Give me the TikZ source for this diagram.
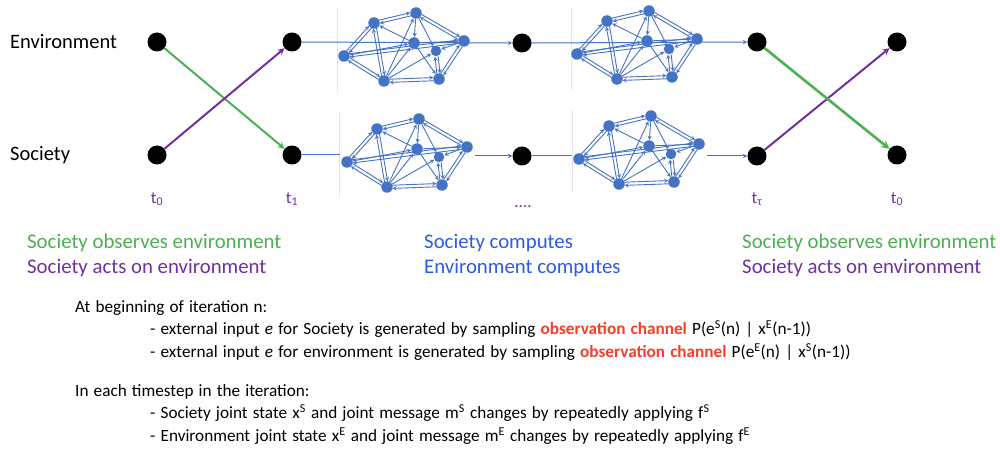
\documentclass[tikz,border=0pt]{standalone}
\usepackage{fontspec}
\setmainfont{Carlito}
\usetikzlibrary{calc}
\tikzset{>=stealth}

\definecolor{netblue}{RGB}{68,114,196}
\definecolor{obsgreen}{RGB}{76,176,80}
\definecolor{actpurple}{RGB}{112,48,160}
\definecolor{compblue}{RGB}{45,90,230}
\definecolor{chanred}{RGB}{250,60,40}

\tikzset{
  bigdot/.style={circle,fill=black,minimum size=19pt,inner sep=0pt},
  netdot/.style={circle,fill=netblue,minimum size=11.5pt,inner sep=0pt},
  link/.style={netblue,line width=0.9pt},
  flow/.style={netblue,line width=1pt},
  sepline/.style={gray!20,line width=1pt},
  obs/.style={obsgreen,line width=2pt},
  act/.style={actpurple,line width=2pt},
  rowlabel/.style={anchor=west,inner sep=0pt,font=\fontsize{20.5}{24}\selectfont},
  tlabel/.style={anchor=base,inner sep=0pt,text=actpurple,font=\fontsize{17}{20}\selectfont},
  legend/.style={anchor=west,inner sep=0pt,font=\fontsize{20.8}{24}\selectfont},
  note/.style={anchor=west,inner sep=0pt,font=\fontsize{17.2}{20}\selectfont,
    execute at begin node={\spaceskip=0.3em plus 0.1em}}
}

% two arrows side by side, one each way
\newcommand\biarrow[2]{%
  \draw[link,->,shorten >=5.5pt,shorten <=5.5pt] ($(#1)!1.6pt!90:(#2)$) -- ($(#2)!1.6pt!-90:(#1)$);
  \draw[link,->,shorten >=5.5pt,shorten <=5.5pt] ($(#2)!1.6pt!90:(#1)$) -- ($(#1)!1.6pt!-90:(#2)$);}

% one little network of agents
\newcommand\drawnet[2]{%
  \begin{scope}[shift={(#2)}]
    \node[netdot] (#1a) at (0,0) {};
    \node[netdot] (#1b) at (30,-33) {};
    \node[netdot] (#1c) at (72,-43) {};
    \node[netdot] (#1d) at (70,-13) {};
    \node[netdot] (#1e) at (120,-15) {};
    \node[netdot,minimum size=10.5pt] (#1f) at (92,-5) {};
    \node[netdot] (#1g) at (95,23) {};
    \node[netdot] (#1h) at (40,25) {};
  \end{scope}
  \foreach \u/\v in {a/b,b/c,c/e,e/g,g/h,h/a,b/h,a/e,f/g}
    {\biarrow{#1\u}{#1\v}}
  \foreach \u/\v in {a/d,d/b,c/d,h/c,c/f,h/d,d/g,d/e,e/f,h/f}
    {\draw[link,->] (#1\u) -- (#1\v);}
}

\begin{document}
\begin{tikzpicture}[x=1pt,y=-1pt]
\useasboundingbox (0,0) rectangle (1000,449);

\node[rowlabel] (envlabel) at (10,42) {Environment};
\node[rowlabel] (soclabel) at (10,155) {Society};

\node[bigdot] (e0) at (157,42) {};
\node[bigdot] (s0) at (157,155) {};
\node[bigdot] (e1) at (292,42) {};
\node[bigdot] (s1) at (292,155) {};
\node[bigdot] (em) at (522,43) {};
\node[bigdot] (sm) at (522,156) {};
\node[bigdot] (et) at (757,42) {};
\node[bigdot] (st) at (757,156) {};
\node[bigdot] (ef) at (897,42) {};
\node[bigdot] (sf) at (897,155) {};

% frames round the computing steps
\draw[sepline] (337,8) -- (337,92);
\draw[sepline] (571,7) -- (571,90);
\draw[sepline] (339,113) -- (339,197);
\draw[sepline] (572,110) -- (572,192);

\coordinate (b1in) at (340,155);
\coordinate (b1out) at (475,156);
\coordinate (b2in) at (572,156);
\coordinate (b2out) at (707,156);

\draw[flow,->] (e1) -- (em);
\draw[flow,->] (em) -- (et);
\draw[flow] (s1) -- (b1in);
\draw[flow,->] (b1out) -- (sm);
\draw[flow] (sm) -- (b2in);
\draw[flow,->] (b2out) -- (st);

\drawnet{ta}{344,56}
\drawnet{tb}{577,54}
\drawnet{ba}{347,162}
\drawnet{bb}{579,159}

\draw[obs,->] (e0) -- (s1);
\draw[act,->] (s0) -- (e1);
\draw[act,->] (st) -- (ef);
\draw[obs,->,line width=2.6pt] (et) -- (sf);

\node[tlabel] (t0a) at (157,203) {t\textsubscript{0}};
\node[tlabel] (t1) at (292,203) {t\textsubscript{1}};
\node[tlabel] (tdots) at (523,207) {....};
\node[tlabel] (ttau) at (757,203) {t\textsubscript{τ}};
\node[tlabel] (t0b) at (897,203) {t\textsubscript{0}};

\node[legend,text=obsgreen] (obsl) at (27,243) {Society observes environment};
\node[legend,text=actpurple] (actl) at (27,268) {Society acts on environment};
\node[legend,text=compblue] (compa) at (424,243) {Society computes};
\node[legend,text=compblue] (compb) at (424,268) {Environment computes};
\node[legend,text=obsgreen] (obsr) at (742,243) {Society observes environment};
\node[legend,text=actpurple] (actr) at (742,268) {Society acts on environment};

\node[note] (begin) at (75,308) {At beginning of iteration n:};
\node[note] (ins) at (150,329) {- external input \textit{e} for Society is generated by sampling \textcolor{chanred}{\textbf{observation channel}} P(e\textsuperscript{S}(n) | x\textsuperscript{E}(n-1))};
\node[note] (ine) at (150,352) {- external input \textit{e} for environment is generated by sampling \textcolor{chanred}{\textbf{observation channel}} P(e\textsuperscript{E}(n) | x\textsuperscript{S}(n-1))};
\node[note] (each) at (75,392) {In each timestep in the iteration:};
\node[note] (steps) at (150,413) {- Society joint state x\textsuperscript{S} and joint message m\textsuperscript{S} changes by repeatedly applying f\textsuperscript{S}};
\node[note] (stepe) at (150,436) {- Environment joint state x\textsuperscript{E} and joint message m\textsuperscript{E} changes by repeatedly applying f\textsuperscript{E}};
\end{tikzpicture}
\end{document}
